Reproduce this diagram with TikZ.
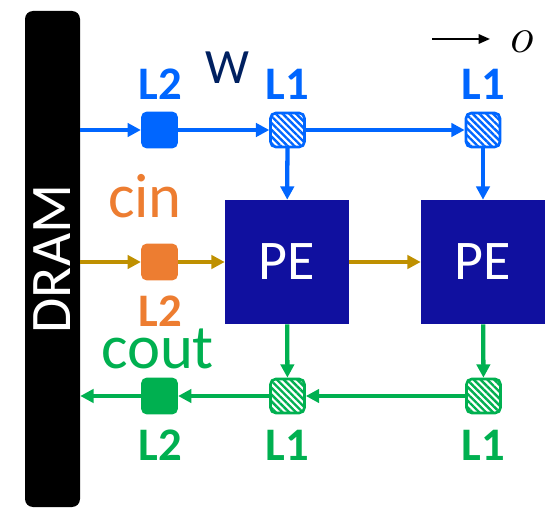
\documentclass[tikz,border=0pt]{standalone}
\usepackage{fontspec}
\usepackage{graphicx}
\setmainfont{Carlito}
\usetikzlibrary{arrows.meta,patterns.meta}
\definecolor{cblue}{HTML}{0066FF}
\definecolor{cnavy}{HTML}{002060}
\definecolor{corange}{HTML}{ED7D31}
\definecolor{cgold}{HTML}{BF9000}
\definecolor{cgreen}{HTML}{00B050}
\definecolor{cpe}{HTML}{10109F}
\tikzset{
  arr/.style={line width=3.2pt,-{Triangle[length=10pt,width=10pt]}},
  solidbox/.style={rounded corners=4pt,minimum size=27.5pt,inner sep=0pt,fill=#1},
  hatchbox/.style={rounded corners=4pt,minimum size=25.5pt,inner sep=0pt,draw=#1,line width=2pt,
     preaction={fill=white},pattern={Lines[angle=-45,distance=3.6pt,line width=1.8pt]},pattern color=#1},
  pebox/.style={fill=cpe,minimum size=93pt,inner sep=0pt,text=white,font=\fontsize{42}{42}\selectfont},
  lab/.style={inner sep=0pt,font=\bfseries\fontsize{35}{35}\selectfont,text=#1},
  word/.style={inner sep=0pt,font=\fontsize{47}{47}\selectfont,text=#1},
}
\begin{document}
\begin{tikzpicture}[x=0.75pt,y=-0.75pt]
\useasboundingbox (0,0) rectangle (551,510);
% DRAM bar
\node[fill=black,rounded corners=6pt,minimum width=41.25pt,minimum height=372pt,inner sep=0pt,text=white,
      font=\fontsize{43}{43}\selectfont] (dram) at (52.5,259) {\rotatebox{90}{DRAM}};
% boxes
\node[solidbox=cblue] (w2) at (159.5,130) {};
\node[hatchbox=cblue] (w1a) at (287.5,130) {};
\node[hatchbox=cblue] (w1b) at (483,130) {};
\node[solidbox=corange] (c2) at (159.5,262) {};
\node[pebox] (pe1) at (287,262) {PE};
\node[pebox] (pe2) at (483,262) {PE};
\node[solidbox=cgreen] (o2) at (159.5,396) {};
\node[hatchbox=cgreen] (o1a) at (287.5,396) {};
\node[hatchbox=cgreen] (o1b) at (483.5,396) {};
% labels
\node[lab=cblue] (lw2) at (160,84) {L2};
\node[lab=cblue] (lw1a) at (287,84) {L1};
\node[lab=cblue] (lw1b) at (483,84) {L1};
\node[inner sep=0pt,text=cnavy,font=\fontsize{37}{37}\selectfont] (wlab) at (227.5,67.5) {W};
\node[word=corange] (cin) at (145,196) {cin};
\node[lab=corange] (lc2) at (160,311) {L2};
\node[word=cgreen] (cout) at (157.5,349) {cout};
\node[lab=cgreen] (lo2) at (160,445) {L2};
\node[lab=cgreen] (lo1a) at (287,445) {L1};
\node[lab=cgreen] (lo1b) at (483,445) {L1};
% blue connectors
\draw[arr,cblue] (dram.east |- w2) -- (w2);
\draw[arr,cblue] (w2) -- (w1a);
\draw[arr,cblue] (w1a) -- (w1b);
\draw[arr,cblue] (w1a) -- (pe1);
\draw[arr,cblue] (w1b) -- (pe2);
% gold connectors
\draw[arr,cgold] (dram.east |- c2) -- (c2);
\draw[arr,cgold] (c2) -- (pe1);
\draw[arr,cgold] (pe1) -- (pe2);
% green connectors
\draw[arr,cgreen] (pe1) -- (o1a);
\draw[arr,cgreen] (pe2) -- (o1b);
\draw[arr,cgreen] (o1b) -- (o1a);
\draw[arr,cgreen] (o1a) -- (o2);
\draw[arr,cgreen] (o2) -- (dram.east |- o2);
% legend
\coordinate (ls) at (432,39);
\coordinate (le) at (490,39);
\draw[line width=1.6pt,-{Triangle[length=8.5pt,width=7pt]}] (ls) -- (le);
\node[inner sep=0pt] (olab) at (522,42) {\fontsize{24.88}{25}\selectfont\scalebox{1.5}{$o$}};
\end{tikzpicture}
\end{document}
